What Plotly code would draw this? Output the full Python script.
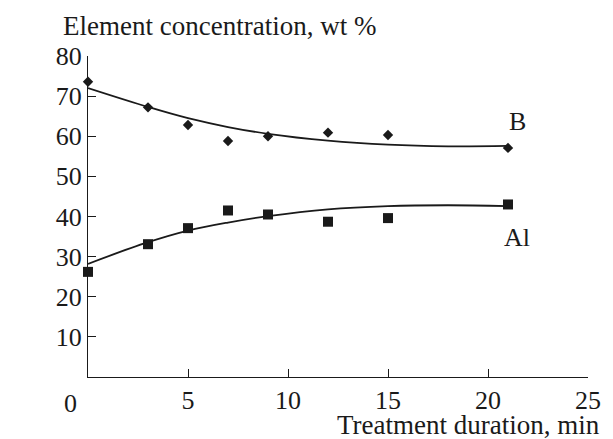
import plotly.graph_objects as go

# Measured data points
time_min = [0, 3, 5, 7, 9, 12, 15, 21]
boron = [73.6, 67.2, 62.8, 58.8, 60.0, 60.9, 60.3, 57.1]
aluminium = [26.2, 33.1, 37.1, 41.5, 40.5, 38.7, 39.6, 43.0]

# Trend curves
curve_x = [0, 3, 5, 7, 9, 12, 15, 18, 21]
boron_curve = [72.0, 67.3, 64.5, 62.3, 60.6, 58.9, 57.9, 57.5, 57.6]
aluminium_curve = [28.2, 33.6, 36.5, 38.5, 40.1, 41.8, 42.6, 42.8, 42.6]

x_ticks = [5, 10, 15, 20, 25]
y_ticks = [10, 20, 30, 40, 50, 60, 70, 80]

FONT = "Liberation Serif"
INK = "#1a1a1a"
TITLE_SIZE = 27
TICK_SIZE = 26

fig = go.Figure()
fig.add_trace(go.Scatter(x=curve_x, y=boron_curve, mode="lines",
                         line=dict(color=INK, width=1.8, shape="spline", smoothing=1.0),
                         showlegend=False, hoverinfo="skip"))
fig.add_trace(go.Scatter(x=curve_x, y=aluminium_curve, mode="lines",
                         line=dict(color=INK, width=1.8, shape="spline", smoothing=1.0),
                         showlegend=False, hoverinfo="skip"))
fig.add_trace(go.Scatter(x=time_min, y=boron, mode="markers", name="B",
                         marker=dict(symbol="diamond", size=8, color=INK),
                         showlegend=False, cliponaxis=False))
fig.add_trace(go.Scatter(x=time_min, y=aluminium, mode="markers", name="Al",
                         marker=dict(symbol="square", size=10, color=INK),
                         showlegend=False, cliponaxis=False))

fig.update_layout(
    width=613, height=439,
    margin=dict(l=88, r=16, t=56, b=62),
    paper_bgcolor="white", plot_bgcolor="white",
    font=dict(family=FONT, size=TICK_SIZE, color=INK),
    xaxis=dict(range=[0, 25], tickvals=x_ticks, ticks="inside", ticklen=8,
               tickwidth=1.3, tickcolor=INK, showline=True, linecolor=INK,
               linewidth=1.3, showgrid=False, zeroline=False,
               tickfont=dict(family=FONT, size=TICK_SIZE, color=INK)),
    yaxis=dict(range=[0, 80], tickvals=y_ticks, ticks="inside", ticklen=8,
               tickwidth=1.3, tickcolor=INK, showline=True, linecolor=INK,
               linewidth=1.3, showgrid=False, zeroline=False,
               tickfont=dict(family=FONT, size=TICK_SIZE, color=INK)),
    annotations=[
        dict(text="Element concentration, wt %", xref="paper", yref="paper",
             x=-0.054, y=1.0, xanchor="left", yanchor="middle", yshift=30,
             showarrow=False, font=dict(family=FONT, size=TITLE_SIZE, color=INK)),
        dict(text="Treatment duration, min", xref="paper", yref="paper",
             x=1.0, y=0, xanchor="right", yanchor="middle", xshift=14, yshift=-48,
             showarrow=False, font=dict(family=FONT, size=TITLE_SIZE, color=INK)),
        dict(text="0", xref="x", yref="paper", x=0, y=0, xanchor="center",
             yanchor="top", xshift=-18, yshift=-10, showarrow=False,
             font=dict(family=FONT, size=TICK_SIZE, color=INK)),
        dict(text="B", xref="x", yref="y", x=21.46, y=63.7, showarrow=False,
             font=dict(family=FONT, size=TICK_SIZE, color=INK)),
        dict(text="Al", xref="x", yref="y", x=21.44, y=34.8, showarrow=False,
             font=dict(family=FONT, size=TICK_SIZE, color=INK)),
    ],
)

fig.write_html("out.html")
